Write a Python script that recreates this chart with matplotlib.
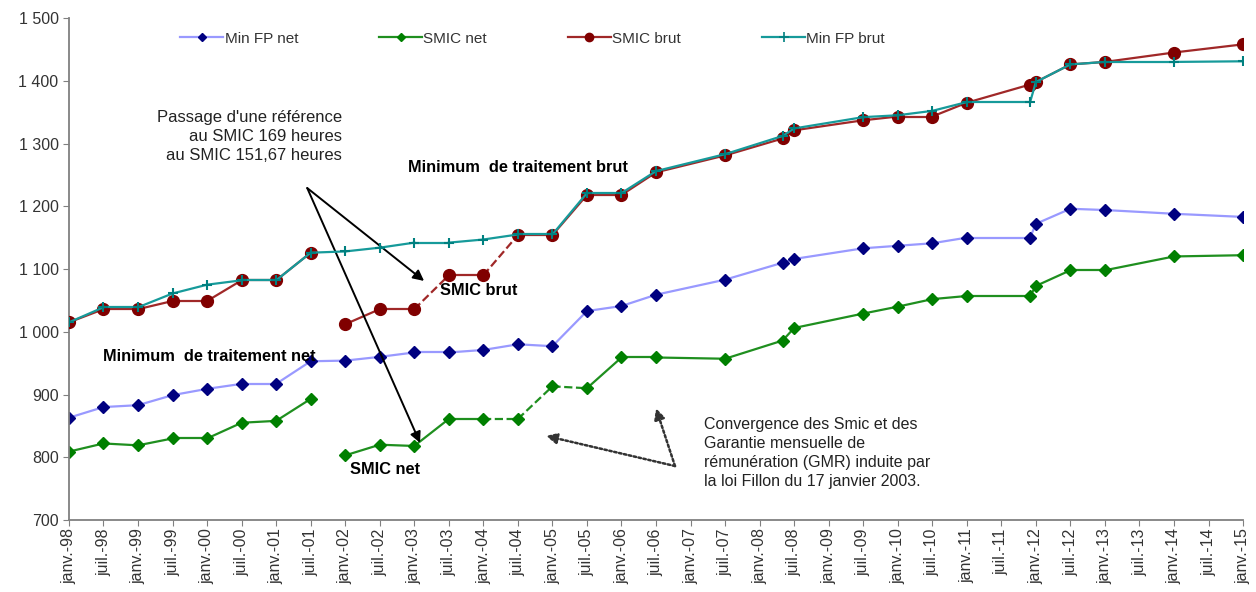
import numpy as np
import matplotlib
matplotlib.use('Agg')
from matplotlib import pyplot as plt
from matplotlib.lines import Line2D
from matplotlib.ticker import FuncFormatter, FixedLocator

plt.rcParams['font.family'] = ['Liberation Sans', 'DejaVu Sans']

# dates of the observations (year-month)
dates = ['1998-01', '1998-07', '1999-01', '1999-07', '2000-01', '2000-07', '2001-01', '2001-07',
         '2002-01', '2002-07', '2003-01', '2003-07', '2004-01', '2004-07', '2005-01', '2005-07',
         '2006-01', '2006-07', '2007-07', '2008-05', '2008-07', '2009-07', '2010-01', '2010-07',
         '2011-01', '2011-12', '2012-01', '2012-07', '2013-01', '2014-01', '2015-01']

min_fp_net = [863, 880, 883, 899, 909, 917, 917, 953,
              954, 960, 967, 967, 971, 980, 977, 1033,
              1041, 1059, 1083, 1110, 1116, 1133, 1137, 1141,
              1150, 1150, 1172, 1196, 1194, 1188, 1183]
min_fp_brut = [1015, 1039, 1039, 1061, 1075, 1082, 1082, 1126,
               1128, 1134, 1142, 1142, 1147, 1155, 1155, 1221,
               1221, 1256, 1283, 1312, 1324, 1342, 1345, 1352,
               1366, 1366, 1398, 1426, 1430, 1430, 1431]

# SMIC on a 169 hours basis (1998 -> juil. 2001)
smic_net_169 = [809, 822, 819, 830, 830, 855, 858, 893]
smic_brut_169 = [1015, 1036, 1036, 1049, 1049, 1082, 1082, 1126]
# SMIC on a 151,67 hours basis (janv. 2002 -> 2015)
smic_net_151 = [803, 820, 818, 861, 861, 861, 913, 910, 959, 959, 957, 986,
                1006, 1029, 1040, 1052, 1057, 1057, 1073, 1098, 1098, 1120, 1122]
smic_brut_151 = [1012, 1036, 1036, 1090, 1090, 1154, 1154, 1218, 1218, 1254, 1281, 1308,
                 1321, 1337, 1343, 1343, 1365, 1394, 1398, 1426, 1430, 1445, 1458]

# segments (start index) drawn dashed in the 151,67 h series
smic_net_dashed = [4, 5, 6]
smic_brut_dashed = [2, 4]

month_names = {1: 'janv.', 7: 'juil.'}


def to_month(d):
    y, m = d.split('-')
    return (int(y) - 1998) * 12 + int(m) - 1


x_all = np.array([to_month(d) for d in dates])
n169 = len(smic_net_169)
x_169 = x_all[:n169]
x_151 = x_all[n169:]

fig = plt.figure(figsize=(12.56, 5.92), dpi=100)
ax = fig.add_axes([0.0549, 0.1216, 0.9348, 0.848])


def draw(ax, x, y, color, mcolor, marker, ms, dashed=(), mew=1.0, z=2):
    for i in range(len(x) - 1):
        ls = '--' if i in dashed else '-'
        ax.plot(x[i:i + 2], y[i:i + 2], color=color, lw=1.6, ls=ls, zorder=z)
    ax.plot(x, y, ls='none', marker=marker, ms=ms, color=mcolor, mec=mcolor, mew=mew, zorder=z + 0.5)


# Min FP net
draw(ax, x_all, min_fp_net, '#9999ff', '#000080', 'D', 6.3)
# SMIC net
draw(ax, x_169, smic_net_169, '#1f8f1f', '#008000', 'D', 6.3)
draw(ax, x_151, smic_net_151, '#1f8f1f', '#008000', 'D', 6.3, dashed=smic_net_dashed)
# SMIC brut
draw(ax, x_169, smic_brut_169, '#a02828', '#800000', 'o', 8.5, z=3)
draw(ax, x_151, smic_brut_151, '#a02828', '#800000', 'o', 8.5, dashed=smic_brut_dashed, z=3)
# Min FP brut
draw(ax, x_all, min_fp_brut, '#169a9a', '#008080', '+', 7.5, mew=1.5, z=4)

handles = [
    Line2D([], [], color='#9999ff', lw=1.6, marker='D', ms=4.5, mfc='#000080', mec='#000080'),
    Line2D([], [], color='#1f8f1f', lw=1.6, marker='D', ms=4.5, mfc='#008000', mec='#008000'),
    Line2D([], [], color='#a02828', lw=1.6, marker='o', ms=6, mfc='#800000', mec='#800000'),
    Line2D([], [], color='#169a9a', lw=1.6, marker='+', ms=6.5, mec='#008080', mew=1.2),
]
labels = ['Min FP net', 'SMIC net', 'SMIC brut', 'Min FP brut']
leg = ax.legend(handles, labels, loc='upper center', bbox_to_anchor=(0.395, 1.0), ncol=4,
                frameon=False, fontsize=11, handlelength=2.8, handletextpad=0.1,
                columnspacing=5.3)
for t in leg.get_texts():
    t.set_color('#333333')

# axes and ticks
ticks = np.arange(0, 205, 6)
ax.set_xlim(0, 204)
ax.set_ylim(700, 1500)
ax.xaxis.set_major_locator(FixedLocator(ticks))
ax.set_xticklabels(['%s-%02d' % (month_names[t % 12 + 1], (1998 + t // 12) % 100) for t in ticks],
                   rotation=90, fontsize=11.5, color='#333333')
ax.set_yticks(np.arange(700, 1501, 100))
ax.yaxis.set_major_formatter(FuncFormatter(lambda v, p: f'{v:,.0f}'.replace(',', ' ')))
ax.tick_params(axis='y', labelsize=11.5, colors='#333333', length=4, color='#808080')
ax.tick_params(axis='x', length=4, color='#808080', pad=2)
for s in ['top', 'right']:
    ax.spines[s].set_visible(False)
for s in ['left', 'bottom']:
    ax.spines[s].set_color('#808080')
    ax.spines[s].set_linewidth(1.3)

# annotations
ax.text(47.4, 1353, "Passage d'une référence\nau SMIC 169 heures\nau SMIC 151,67 heures",
        ha='right', va='top', fontsize=12, color='#222222', linespacing=1.32)
ax.text(58.9, 1261, 'Minimum  de traitement brut', fontsize=11.8, fontweight='bold', va='center')
ax.text(5.9, 960, 'Minimum  de traitement net', fontsize=11.8, fontweight='bold', va='center')
ax.text(64.5, 1066, 'SMIC brut', fontsize=11.8, fontweight='bold', va='center')
ax.text(48.8, 780, 'SMIC net', fontsize=11.8, fontweight='bold', va='center')
ax.text(110.3, 864, 'Convergence des Smic et des\nGarantie mensuelle de\n'
        'rémunération (GMR) induite par\nla loi Fillon du 17 janvier 2003.',
        ha='left', va='top', fontsize=11.5, color='#222222', linespacing=1.34)

arrow_solid = dict(arrowstyle='-|>', color='black', lw=1.4, mutation_scale=16, shrinkA=0, shrinkB=0)
ax.annotate('', xy=(61.7, 1081), xytext=(41.4, 1229), arrowprops=arrow_solid)
ax.annotate('', xy=(61.0, 823), xytext=(41.4, 1229), arrowprops=arrow_solid)

arrow_dot = dict(arrowstyle='-|>', color='#333333', lw=1.8, ls=(0, (1, 1)), mutation_scale=16,
                 shrinkA=0, shrinkB=0)
ax.annotate('', xy=(82.9, 834), xytext=(105.3, 786), arrowprops=arrow_dot)
ax.annotate('', xy=(102.0, 878), xytext=(105.3, 786), arrowprops=arrow_dot)

plt.savefig('out.png', dpi=100)
